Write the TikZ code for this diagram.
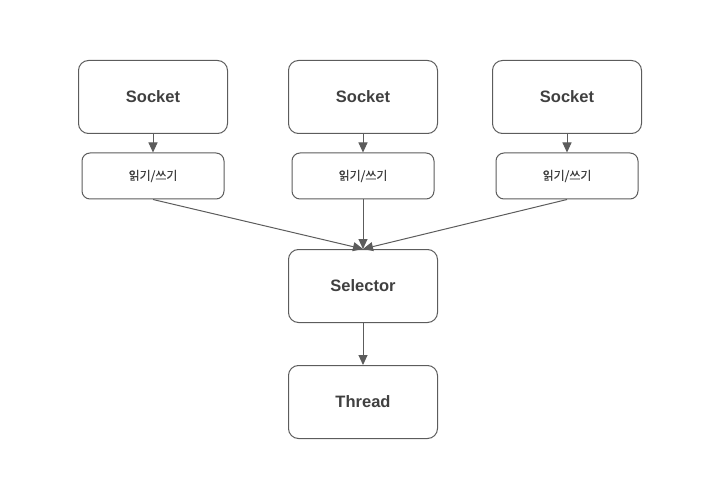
\documentclass[tikz,border=0pt]{standalone}
\usepackage{fontspec}
\setmainfont{Liberation Sans}
\newfontfamily\krfont[FakeBold=0.4]{Noto Sans CJK KR}
\usetikzlibrary{arrows.meta}
\definecolor{linegray}{HTML}{5C5C5C}
\definecolor{textgray}{HTML}{404040}

\begin{document}
\begin{tikzpicture}[x=1pt, y=-1pt,
    bigbox/.style={draw=linegray, line width=1pt, rounded corners=10pt, minimum width=149pt, minimum height=73pt, text=textgray, font=\fontsize{16.5}{19}\selectfont\bfseries},
    rwbox/.style={draw=linegray, line width=1pt, rounded corners=8pt, minimum width=142pt, minimum height=46pt, text=textgray, font=\krfont\fontsize{12}{14}\selectfont},
    conn/.style={draw=linegray, line width=1pt, -{Triangle[length=10pt, width=9pt]}}]
    \useasboundingbox (0, 0) rectangle (718, 484);

    \node [bigbox] (sock1) at (153, 97) {Socket};
    \node [bigbox] (sock2) at (363, 97) {Socket};
    \node [bigbox] (sock3) at (567, 97) {Socket};

    \node [rwbox] (rw1) at (153, 176) {읽기/쓰기};
    \node [rwbox] (rw2) at (363, 176) {읽기/쓰기};
    \node [rwbox] (rw3) at (567, 176) {읽기/쓰기};

    \node [bigbox] (sel) at (363, 286) {Selector};
    \node [bigbox] (thr) at (363, 402) {Thread};

    \draw [conn] (sock1) -- (rw1);
    \draw [conn] (sock2) -- (rw2);
    \draw [conn] (sock3) -- (rw3);

    \draw [conn] (rw1.south) -- (sel.north);
    \draw [conn] (rw2.south) -- (sel.north);
    \draw [conn] (rw3.south) -- (sel.north);

    \draw [conn] (sel) -- (thr);
\end{tikzpicture}
\end{document}
